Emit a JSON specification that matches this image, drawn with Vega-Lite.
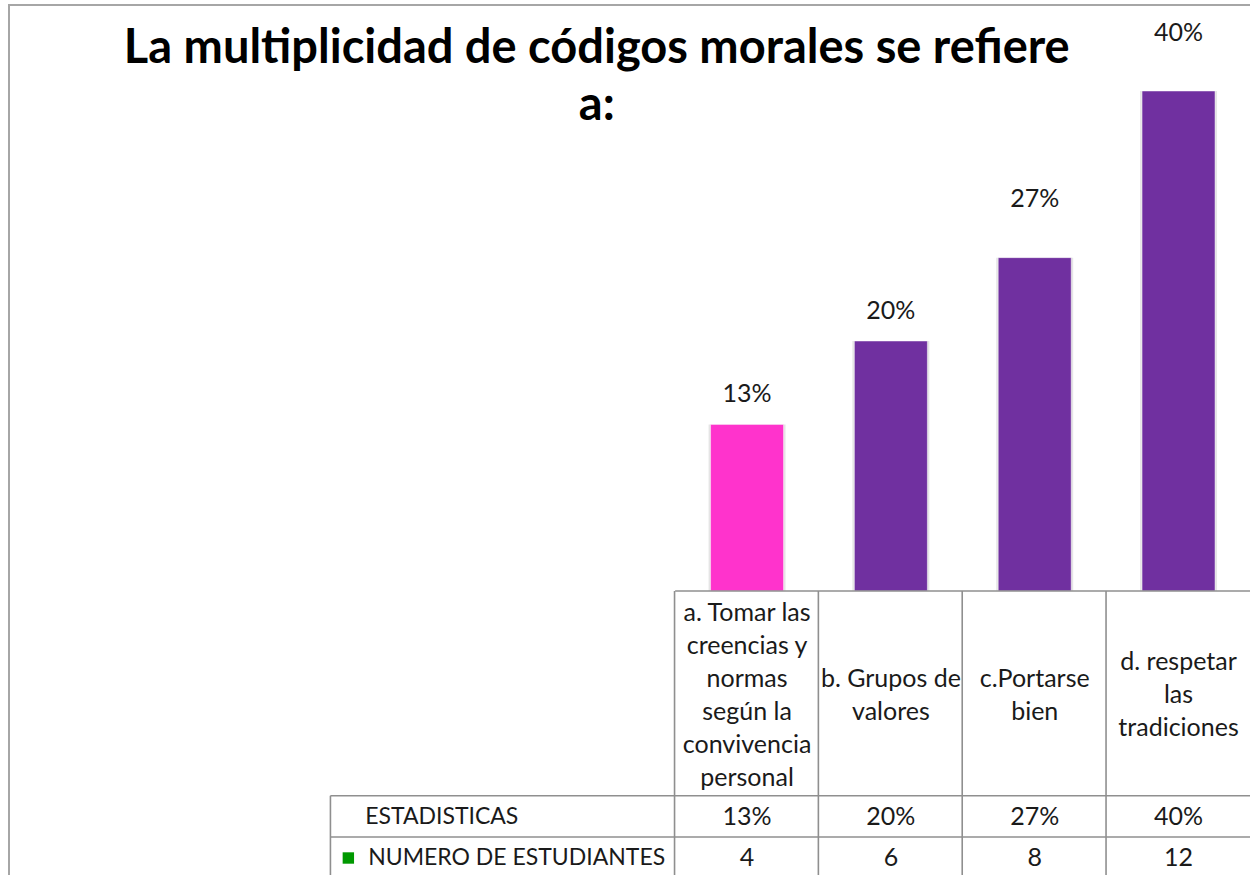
{
  "$schema": "https://vega.github.io/schema/vega-lite/v6.json",
  "width": 1242,
  "height": 872,
  "autosize": {"type": "none"},
  "padding": {"left": 9, "top": 5, "right": 0, "bottom": 0},
  "background": "#ffffff",
  "config": {
    "view": {"stroke": "#a6a6a6", "strokeWidth": 2},
    "text": {"font": "Lato", "fontSize": 25, "color": "#1a1a1a"}
  },
  "data": {
    "values": [
      {"order": 1, "categoria": ["a. Tomar  las", "creencias y", "normas", "según la", "convivencia", "personal"], "porcentaje": 0.1333, "estudiantes": 4},
      {"order": 2, "categoria": ["b. Grupos de", "valores"], "porcentaje": 0.2, "estudiantes": 6},
      {"order": 3, "categoria": ["c.Portarse", "bien"], "porcentaje": 0.2667, "estudiantes": 8},
      {"order": 4, "categoria": ["d. respetar", "las", "tradiciones"], "porcentaje": 0.4, "estudiantes": 12}
    ]
  },
  "encoding": {
    "x": {"field": "order", "type": "quantitative", "axis": null, "scale": {"domain": [-4.0966, 4.469], "nice": false, "zero": false}},
    "y": {"field": "porcentaje", "type": "quantitative", "axis": null, "scale": {"domain": [-0.2288, 0.4688], "nice": false, "zero": false}}
  },
  "layer": [
    {
      "mark": {"type": "bar", "orient": "vertical", "width": 77, "color": "#000000", "opacity": 0.1},
      "encoding": {"y2": {"datum": 0}}
    },
    {
      "mark": {"type": "bar", "orient": "vertical", "width": 73, "stroke": "#ffffff", "strokeWidth": 0.8, "strokeOpacity": 0.6},
      "encoding": {
        "y2": {"datum": 0},
        "color": {"field": "order", "type": "nominal", "legend": null, "scale": {"domain": [1, 2, 3, 4], "range": ["#ff33cc", "#7030a0", "#7030a0", "#7030a0"]}}
      }
    },
    {
      "transform": [{"filter": "datum.order <= 2"}],
      "mark": {"type": "text", "baseline": "middle", "align": "center", "dy": -30},
      "encoding": {"text": {"field": "porcentaje", "type": "quantitative", "format": ".0%"}}
    },
    {
      "transform": [{"filter": "datum.order > 2"}],
      "mark": {"type": "text", "baseline": "middle", "align": "center", "dy": -58.5},
      "encoding": {"text": {"field": "porcentaje", "type": "quantitative", "format": ".0%"}}
    },
    {
      "transform": [{"filter": "datum.order == 1"}],
      "mark": {"type": "rule", "color": "#8f8f8f", "strokeWidth": 1.6},
      "encoding": {"x": {"datum": 0.5, "type": "quantitative"}, "x2": {"datum": 4.6}, "y": {"datum": 0, "type": "quantitative"}}
    },
    {
      "transform": [{"filter": "datum.order == 1"}],
      "mark": {"type": "rule", "color": "#8f8f8f", "strokeWidth": 1.6},
      "encoding": {"x": {"datum": -1.8966, "type": "quantitative"}, "x2": {"datum": 4.6}, "y": {"datum": -0.1638, "type": "quantitative"}}
    },
    {
      "transform": [{"filter": "datum.order == 1"}],
      "mark": {"type": "rule", "color": "#8f8f8f", "strokeWidth": 1.6},
      "encoding": {"x": {"datum": -1.8966, "type": "quantitative"}, "x2": {"datum": 4.6}, "y": {"datum": -0.1968, "type": "quantitative"}}
    },
    {
      "mark": {"type": "rule", "color": "#8f8f8f", "strokeWidth": 1.6, "xOffset": -72.5},
      "encoding": {"y": {"datum": 0, "type": "quantitative"}, "y2": {"datum": -0.2288}}
    },
    {
      "transform": [{"filter": "datum.order == 1"}],
      "mark": {"type": "rule", "color": "#8f8f8f", "strokeWidth": 1.6},
      "encoding": {"x": {"datum": -1.8966, "type": "quantitative"}, "y": {"datum": -0.1638, "type": "quantitative"}, "y2": {"datum": -0.2288}}
    },
    {
      "transform": [{"filter": "datum.order == 1"}],
      "mark": {"type": "text", "baseline": "middle", "align": "center", "lineHeight": 33},
      "encoding": {"text": {"field": "categoria"}, "y": {"datum": -0.0172, "type": "quantitative"}}
    },
    {
      "transform": [{"filter": "datum.order == 2 || datum.order == 3"}],
      "mark": {"type": "text", "baseline": "middle", "align": "center", "lineHeight": 33},
      "encoding": {"text": {"field": "categoria"}, "y": {"datum": -0.07, "type": "quantitative"}}
    },
    {
      "transform": [{"filter": "datum.order == 4"}],
      "mark": {"type": "text", "baseline": "middle", "align": "center", "lineHeight": 33},
      "encoding": {"text": {"field": "categoria"}, "y": {"datum": -0.0568, "type": "quantitative"}}
    },
    {
      "mark": {"type": "text", "baseline": "middle", "align": "center"},
      "encoding": {"text": {"field": "porcentaje", "type": "quantitative", "format": ".0%"}, "y": {"datum": -0.1808, "type": "quantitative"}}
    },
    {
      "mark": {"type": "text", "baseline": "middle", "align": "center"},
      "encoding": {"text": {"field": "estudiantes", "type": "quantitative"}, "y": {"datum": -0.2136, "type": "quantitative"}}
    },
    {
      "transform": [{"filter": "datum.order == 1"}],
      "mark": {"type": "text", "baseline": "middle", "align": "left", "fontSize": 23},
      "encoding": {"text": {"value": "ESTADISTICAS"}, "x": {"datum": -1.655, "type": "quantitative"}, "y": {"datum": -0.1808, "type": "quantitative"}}
    },
    {
      "transform": [{"filter": "datum.order == 1"}],
      "mark": {"type": "text", "baseline": "middle", "align": "left", "fontSize": 23},
      "encoding": {"text": {"value": "NUMERO  DE  ESTUDIANTES"}, "x": {"datum": -1.634, "type": "quantitative"}, "y": {"datum": -0.2136, "type": "quantitative"}}
    },
    {
      "transform": [{"filter": "datum.order == 1"}],
      "mark": {"type": "point", "shape": "square", "filled": true, "color": "#009900", "size": 130, "opacity": 1},
      "encoding": {"x": {"datum": -1.772, "type": "quantitative"}, "y": {"datum": -0.2136, "type": "quantitative"}}
    },
    {
      "transform": [{"filter": "datum.order == 1"}],
      "mark": {"type": "text", "baseline": "alphabetic", "align": "center", "fontSize": 47, "fontWeight": "bold", "color": "#000000"},
      "encoding": {"text": {"value": "La multiplicidad de códigos morales se refiere"}, "x": {"datum": -0.0448, "type": "quantitative"}, "y": {"datum": 0.4222, "type": "quantitative"}}
    },
    {
      "transform": [{"filter": "datum.order == 1"}],
      "mark": {"type": "text", "baseline": "alphabetic", "align": "center", "fontSize": 47, "fontWeight": "bold", "color": "#000000"},
      "encoding": {"text": {"value": "a:"}, "x": {"datum": -0.0448, "type": "quantitative"}, "y": {"datum": 0.3768, "type": "quantitative"}}
    }
  ]
}
